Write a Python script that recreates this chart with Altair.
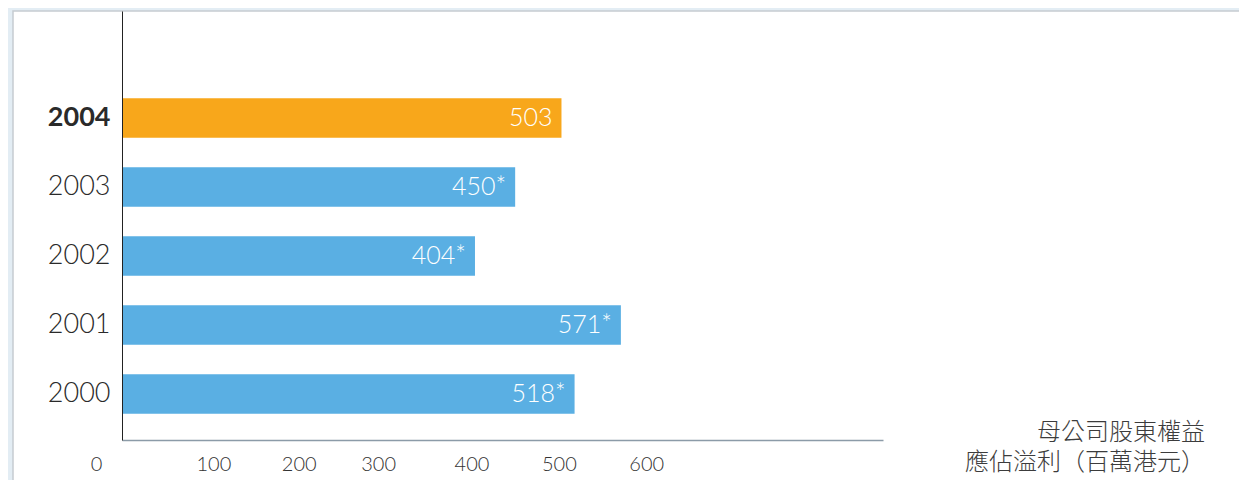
import altair as alt
import pandas as pd

years = ["2004", "2003", "2002", "2001", "2000"]
values = [503, 450, 404, 571, 518]
value_labels = ["503", "450*", "404*", "571*", "518*"]
highlight = [True, False, False, False, False]
x_ticks = [0, 100, 200, 300, 400, 500, 600]
title_lines = ["母公司股東權益", "應佔溢利（百萬港元）"]

ORANGE = "#f8a71b"
BLUE = "#5aafe3"

df = pd.DataFrame({"year": years, "value": values, "label": value_labels,
                   "highlight": highlight})

panel = alt.Chart(pd.DataFrame({"k": [0]})).mark_rect(
    fill="white", stroke="#c6ccd1", strokeWidth=1.5
).encode(x=alt.value(-109), x2=alt.value(1300), y=alt.value(0), y2=alt.value(600))

base = alt.Chart(df).encode(
    y=alt.Y(
        "year:N", sort=years,
        scale=alt.Scale(paddingInner=0.4275, paddingOuter=0.8225, align=0.769),
        axis=alt.Axis(
            title=None, ticks=False, domainColor="#222222", domainWidth=1,
            labelFont="Lato", labelFontSize=27, labelColor="#2a2a2a", labelPadding=12,
            labelFontWeight={"expr": "datum.value == '2004' ? 'bold' : 300"},
            zindex=1,
        ),
    ),
    x=alt.X(
        "value:Q",
        scale=alt.Scale(domain=[0, 871], nice=False, zero=True),
        axis=alt.Axis(
            values=x_ticks, ticks=False, grid=False,
            domainColor="#8c9ba8", domainWidth=1.5,
            labelFont="Lato", labelFontSize=20, labelFontWeight=300, labelColor="#333333",
            labelPadding=14, labelOverlap=False, labelFlush=False,
            labelOffset={"expr": "datum.value == 0 ? -26 : datum.value == 100 ? 4 : datum.value == 300 ? -6 : datum.value == 200 ? 2 : 0"},
            title=None,
            zindex=1,
        ),
    ),
)

bars = base.mark_bar().encode(
    color=alt.condition(alt.datum.highlight, alt.value(ORANGE), alt.value(BLUE))
)

texts = base.mark_text(
    align="right", baseline="middle", dx=-9, color="white",
    font="Lato", fontSize=25, fontWeight=300,
).encode(text="label:N")

title_df = pd.DataFrame({"line": title_lines})
title_style = dict(align="right", baseline="middle", font="Noto Sans CJK TC",
                   fontSize=24, fontWeight=300, color="#3c3c3c")
title1 = alt.Chart(title_df.iloc[[0]]).mark_text(**title_style).encode(
    x=alt.value(1083), y=alt.value(422), text="line:N")
title2 = alt.Chart(title_df.iloc[[1]]).mark_text(**title_style).encode(
    x=alt.value(1083), y=alt.value(452), text="line:N")

chart = alt.layer(panel, bars, texts, title1, title2).properties(
    width=761, height=429, background="#e3edf4",
    padding={"left": 114, "top": 3, "right": 356, "bottom": 40},
    autosize=alt.AutoSizeParams(type="none"),
).configure_view(strokeWidth=0)

chart.save("out.html", embed_options={"renderer": "svg", "actions": False})
